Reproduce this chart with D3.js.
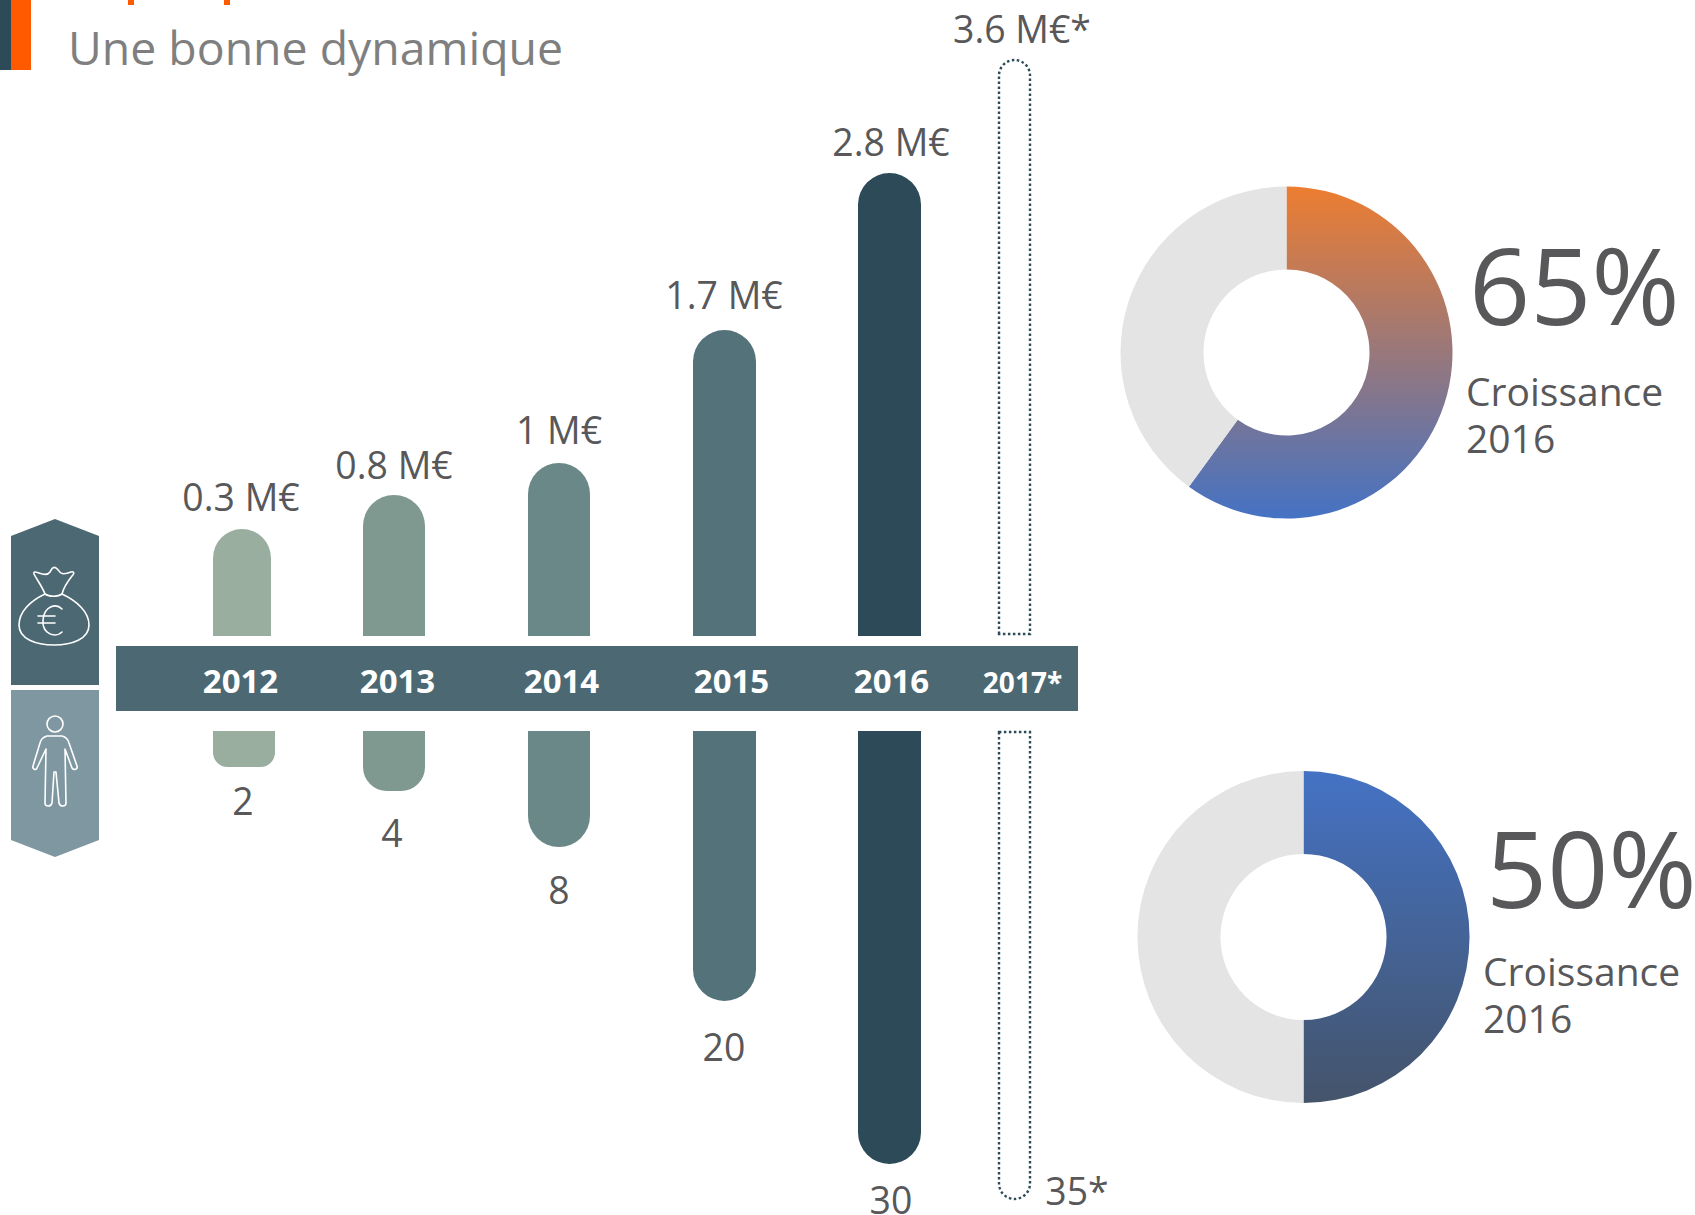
<!DOCTYPE html>
<html>
<head>
<meta charset="utf-8">
<script src="https://cdnjs.cloudflare.com/ajax/libs/d3/7.8.5/d3.min.js"></script>
<style>
    html, body { margin: 0; padding: 0; background: #fff; }
    svg { display: block; }
    text { font-family: "Open Sans", sans-serif; fill: #58585a; }
</style>
</head>
<body>
<div id="chart"></div>
<script>
// data
const years = ['2012', '2013', '2014', '2015', '2016', '2017*'];
const revenue = [0.3, 0.8, 1, 1.7, 2.8, 3.6];
const revenueLabels = ['0.3 M€', '0.8 M€', '1 M€', '1.7 M€', '2.8 M€', '3.6 M€*'];
const staff = [2, 4, 8, 20, 30, 35];
const staffLabels = ['2', '4', '8', '20', '30', '35*'];
const barColors = ['#9aaea0', '#7f9890', '#6b8888', '#53727a', '#2d4a58', 'none'];
const donutShares = [60, 50];
const donutLabels = ['65%', '50%'];
const donutCaption = ['Croissance', '2016'];

const width = 1695;
const height = 1215;

const svg = d3.select('#chart').append('svg')
    .attr('width', width)
    .attr('height', height);

// the picture is not to scale, so both value scales go through one stop per value
const yRevenue = d3.scaleLinear().domain(revenue).range([529, 495, 463, 330, 173, 60]);
const yStaff = d3.scaleLinear().domain(staff).range([767, 791, 847, 1001, 1164, 1199]);
const revenueBase = 636;
const staffBase = 731;

const xBar = d3.scaleOrdinal().domain(years).range([213, 363, 528, 693, 858, 999]);
const barWidth = d3.scaleOrdinal().domain(years).range([58, 62, 62, 63, 63, 31]);
const lowerBarWidth = d3.scaleOrdinal().domain(years).range([62, 62, 62, 63, 63, 31]);
const xYear = d3.scaleOrdinal().domain(years).range([240, 397, 561, 731, 891, 1022]);
const xRevenueLabel = d3.scaleOrdinal().domain(years).range([241, 394, 559, 724, 891, 1022]);
const revenueLabelGap = d3.scaleOrdinal().domain(years).range([18, 16, 19, 21, 17, 17.5]);
const xStaffLabel = d3.scaleOrdinal().domain(years).range([243, 392, 559, 724, 891, 1077]);
const staffLabelGap = d3.scaleOrdinal().domain(years).range([48, 56, 57, 60, 50, 6]);

const defs = svg.append('defs');

function addGradient(id, top, bottom) {
    const g = defs.append('linearGradient')
        .attr('id', id)
        .attr('x1', 0).attr('y1', 0)
        .attr('x2', 0).attr('y2', 1);
    g.append('stop').attr('offset', '0%').attr('stop-color', top);
    g.append('stop').attr('offset', '100%').attr('stop-color', bottom);
}
addGradient('grad0', '#ed7d31', '#4472c4');
addGradient('grad1', '#4472c4', '#44546a');

// header
svg.append('rect').attr('x', 0).attr('y', 0).attr('width', 11).attr('height', 70).attr('fill', '#2d4a58');
svg.append('rect').attr('x', 11).attr('y', 0).attr('width', 20).attr('height', 70).attr('fill', '#ff5a00');
svg.append('rect').attr('x', 128).attr('y', 0).attr('width', 6).attr('height', 5).attr('fill', '#ff5a00');
svg.append('rect').attr('x', 224).attr('y', 0).attr('width', 6).attr('height', 5).attr('fill', '#ff5a00');
svg.append('text')
    .attr('x', 68).attr('y', 65)
    .style('font-size', '46.4px')
    .style('fill', '#7f7f7f')
    .text('Une bonne dynamique');

// side hexagons with the two icons
svg.append('path').attr('d', 'M11,536 L55,519 L99,536 L99,685 L11,685 Z').attr('fill', '#4b6873');
svg.append('path').attr('d', 'M11,690 L99,690 L99,840 L55,857 L11,840 Z').attr('fill', '#7f97a0');

const icons = svg.append('g').attr('fill', 'none').attr('stroke', '#fff').attr('stroke-width', 1.6)
    .attr('stroke-linejoin', 'round').attr('stroke-linecap', 'round');
// money bag
icons.append('path').attr('d', 'M45,594 C42,586 37,580 34,574 C33,571 36,572 39,573 C44,575 48,575 50,572 C53,566 55,566 59,571 C61,575 66,574 71,572 C75,571 74,574 72,576 C68,581 64,586 62,594 C58,597 49,597 45,594 Z');
icons.append('path').attr('d', 'M45,594 C30,601 19,612 19,625 C19,639 36,645 54,645 C72,645 89,639 89,625 C89,612 77,601 62,594');
icons.append('path').attr('d', 'M62,609 C56,603 44,606 43,620 C42,635 56,638 62,632');
icons.append('path').attr('d', 'M38,616 L55,616 M38,623 L55,623');
// person
icons.append('circle').attr('cx', 55).attr('cy', 724).attr('r', 8);
icons.append('path').attr('d', 'M47,736 C43,737 41,739 40,743 L33,766 C32,769 36,771 37,768 L46,749 L45,803 C45,807 51,807 52,803 L54,772 L56,772 L59,803 C60,807 66,807 66,803 L65,749 L72,768 C74,771 78,769 77,766 L69,743 C68,739 66,737 62,736 Z');

function topBar(x, y, w, base) {
    const r = w / 2;
    return 'M' + x + ',' + base + ' L' + x + ',' + (y + r)
        + ' A' + r + ',' + r + ' 0 0 1 ' + (x + w) + ',' + (y + r)
        + ' L' + (x + w) + ',' + base + ' Z';
}

function bottomBar(x, y, w, base) {
    const r = Math.min(w / 2, (y - base) * 0.4);
    return 'M' + x + ',' + base + ' L' + x + ',' + (y - r)
        + ' A' + r + ',' + r + ' 0 0 0 ' + (x + r) + ',' + y
        + ' L' + (x + w - r) + ',' + y
        + ' A' + r + ',' + r + ' 0 0 0 ' + (x + w) + ',' + (y - r)
        + ' L' + (x + w) + ',' + base + ' Z';
}

const isForecast = (i) => i === years.length - 1;

function styleBars(sel) {
    sel.attr('fill', (d, i) => barColors[i])
        .attr('stroke', (d, i) => isForecast(i) ? '#2d4a58' : 'none')
        .attr('stroke-width', (d, i) => isForecast(i) ? 2.4 : 0)
        .attr('stroke-dasharray', (d, i) => isForecast(i) ? '2.5 2.5' : null);
}

svg.append('g').selectAll('path')
    .data(revenue)
    .enter().append('path')
    .attr('d', (d, i) => topBar(xBar(years[i]), yRevenue(d), barWidth(years[i]), isForecast(i) ? revenueBase - 2 : revenueBase))
    .call(styleBars);

svg.append('g').selectAll('path')
    .data(staff)
    .enter().append('path')
    .attr('d', (d, i) => bottomBar(xBar(years[i]), yStaff(d), lowerBarWidth(years[i]), isForecast(i) ? staffBase + 1 : staffBase))
    .call(styleBars);

svg.append('g').selectAll('text')
    .data(revenue)
    .enter().append('text')
    .attr('x', (d, i) => xRevenueLabel(years[i]))
    .attr('y', (d, i) => yRevenue(d) - revenueLabelGap(years[i]))
    .attr('text-anchor', 'middle')
    .style('font-size', '37.4px')
    .text((d, i) => revenueLabels[i]);

svg.append('g').selectAll('text')
    .data(staff)
    .enter().append('text')
    .attr('x', (d, i) => xStaffLabel(years[i]))
    .attr('y', (d, i) => yStaff(d) + staffLabelGap(years[i]))
    .attr('text-anchor', 'middle')
    .style('font-size', '37.4px')
    .text((d, i) => staffLabels[i]);

// year band
svg.append('rect')
    .attr('x', 116).attr('y', 646)
    .attr('width', 962).attr('height', 65)
    .attr('fill', '#4b6873');

const yearAxis = svg.append('g')
    .attr('transform', 'translate(0,693)')
    .call(d3.axisTop(xYear).tickSize(0).tickPadding(0));
yearAxis.select('.domain').remove();
yearAxis.selectAll('text')
    .attr('y', 0)
    .attr('dy', 0)
    .style('font-family', '"Open Sans", sans-serif')
    .style('font-weight', 700)
    .style('font-size', (d) => d === '2017*' ? '28px' : '33px')
    .style('fill', '#fff');

// donuts
const donutCenters = [[1286.5, 352.5], [1303.5, 937]];
const textX = [1466, 1483];
const bigLabelY = [325, 908];
const captionY = [406, 986];
const pie = d3.pie().sort(null);
const arc = d3.arc().innerRadius(83).outerRadius(166);

donutShares.forEach(function (share, k) {
    const g = svg.append('g')
        .attr('transform', 'translate(' + donutCenters[k][0] + ',' + donutCenters[k][1] + ')');

    g.selectAll('path')
        .data(pie([share, 100 - share]))
        .enter().append('path')
        .attr('d', arc)
        .attr('fill', (d, i) => i === 0 ? 'url(#grad' + k + ')' : '#e4e4e4');

    svg.append('text')
        .attr('x', textX[k] + 3)
        .attr('y', bigLabelY[k])
        .style('font-size', '107px')
        .text(donutLabels[k]);

    donutCaption.forEach(function (line, j) {
        svg.append('text')
            .attr('x', textX[k])
            .attr('y', captionY[k] + j * 46.5)
            .style('font-size', '39px')
            .text(line);
    });
});
</script>
</body>
</html>
